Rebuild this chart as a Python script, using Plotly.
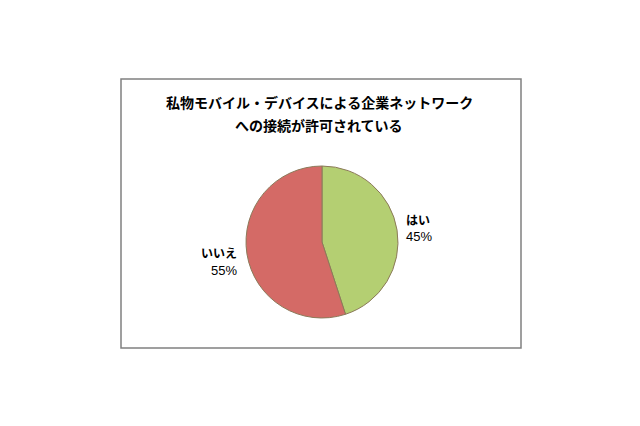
import plotly.graph_objects as go

# data
answers = ["はい", "いいえ"]
shares = [45, 55]
slice_colors = ["#B4CF72", "#D46A66"]
title_lines = ["私物モバイル・デバイスによる企業ネットワーク", "への接続が許可されている"]

W, H = 640, 426
FONT = "Noto Sans CJK JP"

fig = go.Figure()
fig.add_trace(go.Pie(
    labels=answers,
    values=shares,
    sort=False,
    direction="clockwise",
    rotation=0,
    marker=dict(colors=slice_colors, line=dict(color="#8C7A5A", width=1)),
    textinfo="none",
    hoverinfo="label+percent",
    showlegend=False,
    domain=dict(x=[246 / W, 398 / W], y=[108 / H, 260 / H]),
))

# outside labels: name (bold) on top, percent below
label_spots = [
    dict(x=404, y=219, xanchor="left"),
    dict(x=239, y=252, xanchor="right"),
]
for name, val, spot in zip(answers, shares, label_spots):
    fig.add_annotation(
        x=spot["x"] / W, y=(H - spot["y"]) / H, xref="paper", yref="paper",
        xanchor=spot["xanchor"], yanchor="middle",
        text=f"<b>{name}</b>", showarrow=False,
        font=dict(family=FONT, size=12, color="#000000"),
    )
    fig.add_annotation(
        x=spot["x"] / W, y=(H - spot["y"] - 18) / H, xref="paper", yref="paper",
        xanchor=spot["xanchor"], yanchor="middle",
        text=f"{val}%", showarrow=False,
        font=dict(family="Liberation Sans", size=13, color="#000000"),
    )

for i, line in enumerate(title_lines):
    fig.add_annotation(
        x=319 / W, y=(H - 102 - 23 * i) / H, xref="paper", yref="paper",
        xanchor="center", yanchor="middle", showarrow=False,
        text=f"<b>{line}</b>",
        font=dict(family=FONT, size=14, color="#000000"),
    )

# chart frame
fig.add_shape(
    type="rect", xref="paper", yref="paper",
    x0=121 / W, x1=521 / W, y0=(H - 348) / H, y1=(H - 79) / H,
    line=dict(color="#808080", width=1.5), fillcolor="rgba(0,0,0,0)",
)

fig.update_layout(
    width=W, height=H,
    margin=dict(l=0, r=0, t=0, b=0),
    paper_bgcolor="white", plot_bgcolor="white",
    font=dict(family=FONT),
)

# drop the default page margin so the figure sits at the window corner
fig.write_html("out.html", config={"displayModeBar": False},
               post_script="document.body.style.margin='0';")
